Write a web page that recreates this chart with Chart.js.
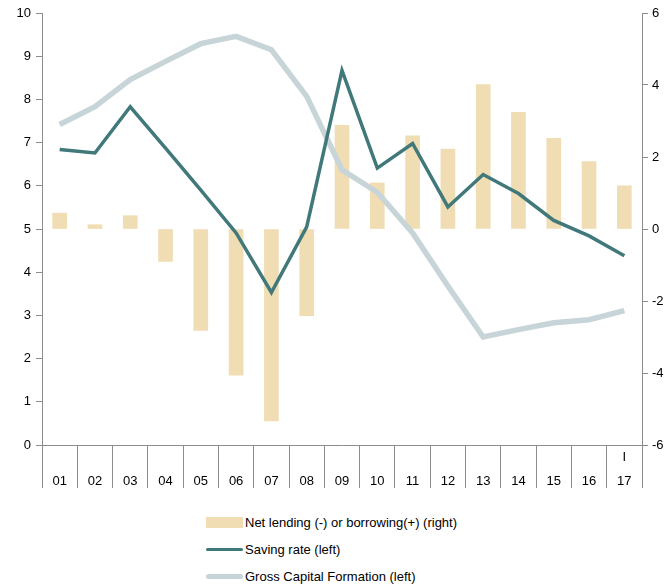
<!DOCTYPE html>
<html>
<head>
<meta charset="utf-8">
<script src="https://cdn.jsdelivr.net/npm/chart.js@4"></script>
<style>
  body { margin: 0; background: #fff; font-family: "Liberation Sans", Arial, sans-serif; }
  #wrap { position: relative; width: 670px; height: 588px; }
  #box { position: absolute; left: 0; top: 0; width: 670px; height: 505px; }
  #legend { position: absolute; left: 206px; top: 509px; font-size: 13px; color: #000; }
  .it { display: flex; align-items: center; height: 27px; }
  .sw { width: 37px; margin-right: 2px; }
</style>
</head>
<body>
<div id="wrap">
  <div id="box"><canvas id="c"></canvas></div>
  <div id="legend"></div>
</div>
<script>
const years = ['01','02','03','04','05','06','07','08','09','10','11','12','13','14','15','16','17'];
const quarters = ['','','','','','','','','','','','','','','','','I'];
const netLending = [0.44, 0.12, 0.37, -0.90, -2.82, -4.06, -5.33, -2.41, 2.88, 1.28, 2.59, 2.22, 4.01, 3.24, 2.52, 1.87, 1.20];
const savingRate = [6.84, 6.76, 7.83, 6.87, 5.90, 4.91, 3.53, 5.05, 8.67, 6.41, 6.98, 5.51, 6.26, 5.82, 5.20, 4.84, 4.38];
const gcf = [7.42, 7.83, 8.46, 8.88, 9.29, 9.46, 9.15, 8.07, 6.37, 5.85, 4.91, 3.68, 2.50, 2.67, 2.83, 2.90, 3.11];

const gray = '#8c8c8c';
const font = { family: 'Liberation Sans', size: 13 };

const chart = new Chart(document.getElementById('c'), {
  type: 'bar',
  data: {
    labels: years.map((y, i) => [quarters[i], y]),
    datasets: [
      { type: 'line', label: 'Saving rate (left)', data: savingRate, yAxisID: 'yL', order: 1,
        borderColor: '#41797b', borderWidth: 3.5, pointRadius: 0, tension: 0, borderJoinStyle: 'miter' },
      { type: 'line', label: 'Gross Capital Formation (left)', data: gcf, yAxisID: 'yL', order: 2,
        borderColor: '#c7d4d8', borderWidth: 5.5, pointRadius: 0, tension: 0 },
      { type: 'bar', label: 'Net lending (-) or borrowing(+) (right)', data: netLending, yAxisID: 'yR', order: 3,
        backgroundColor: '#f0ddb3', barThickness: 14 }
    ]
  },
  options: {
    responsive: true, maintainAspectRatio: false, animation: false,
    layout: { padding: { top: 13, left: 0, right: 0, bottom: 0 } },
    plugins: { legend: { display: false }, tooltip: { enabled: false } },
    scales: {
      x: {
        grid: { offset: true, drawOnChartArea: false, tickLength: 43, color: gray, lineWidth: 1 },
        border: { color: gray },
        ticks: { color: '#000', font: { family: 'Liberation Sans', size: 13, lineHeight: 1.85 }, padding: -43, maxRotation: 0, autoSkip: false },
        afterFit: s => { s.height = 60; }
      },
      yL: {
        position: 'left', min: 0, max: 10,
        ticks: { stepSize: 1, color: '#000', font, padding: 5 },
        grid: { drawOnChartArea: false, tickLength: 6, color: gray },
        border: { color: gray },
        afterFit: s => { s.width = 42; }
      },
      yR: {
        position: 'right', min: -6, max: 6,
        ticks: { stepSize: 2, color: '#000', font, padding: 4 },
        grid: { drawOnChartArea: false, tickLength: 6, color: gray },
        border: { color: gray },
        afterFit: s => { s.width = 28; }
      }
    }
  }
});

// legend: bars first, then the two lines
const leg = document.getElementById('legend');
[2, 0, 1].forEach(i => {
  const ds = chart.data.datasets[i];
  const sw = ds.type === 'bar'
    ? `<span class="sw" style="height:11px;background:${ds.backgroundColor}"></span>`
    : `<span class="sw" style="height:${ds.borderWidth}px;border-radius:3px;background:${ds.borderColor}"></span>`;
  leg.innerHTML += `<div class="it">${sw}<span>${ds.label}</span></div>`;
});
</script>
</body>
</html>
